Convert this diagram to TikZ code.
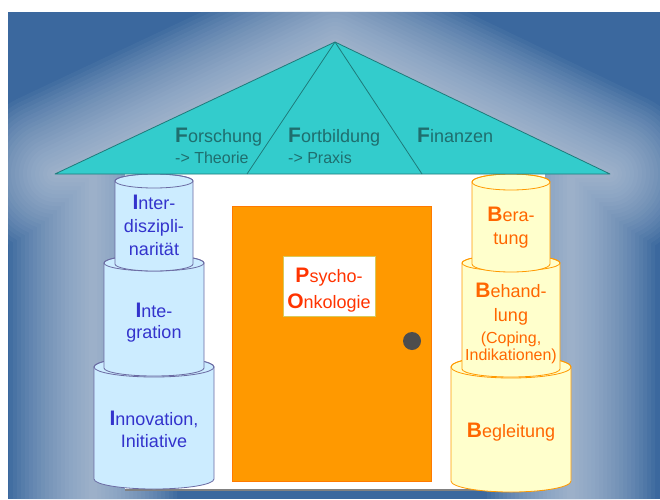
\documentclass[tikz,border=0pt]{standalone}
\usepackage{fontspec}
\setmainfont{Liberation Sans}

\definecolor{bgblue}{HTML}{3B689E}
\definecolor{glowwhite}{HTML}{D6DEEA}
\definecolor{roofteal}{HTML}{33CCCC}
\definecolor{roofline}{HTML}{1F7A7A}
\definecolor{rooftext}{HTML}{1F6E6E}
\definecolor{pillblue}{HTML}{CCECFF}
\definecolor{pillblueline}{HTML}{6B6BA3}
\definecolor{textblue}{HTML}{3333CC}
\definecolor{pillyellow}{HTML}{FFFFCC}
\definecolor{pillyellowline}{HTML}{FF9900}
\definecolor{textorange}{HTML}{FF6600}
\definecolor{doororange}{HTML}{FF9900}
\definecolor{doorline}{HTML}{FF7A00}
\definecolor{signred}{HTML}{FF3300}
\definecolor{signline}{HTML}{D9C95A}
\definecolor{knobgray}{HTML}{4D4D4D}

% big bold first letter
\newcommand{\ini}[1]{{\fontsize{21}{22}\selectfont\bfseries #1}}
% pillar drum: style, centre x, top y, bottom y, x radius, y radius
\newcommand{\pillar}[6]{%
  \filldraw[#1] (#2-#5,#3) -- (#2-#5,#4)
    arc[start angle=180, end angle=360, x radius=#5, y radius=#6]
    -- (#2+#5,#3)
    arc[start angle=0, end angle=180, x radius=#5, y radius=#6] -- cycle;
  \draw[#1, fill=none] (#2,#3) ellipse[x radius=#5, y radius=#6];}

\begin{document}
\begin{tikzpicture}[x=1pt, y=1pt,
    glow/.style={glowwhite, opacity=0.05, line join=round},
    roof/.style={fill=roofteal, draw=roofline, line width=0.8pt, line join=round},
    bluedrum/.style={fill=pillblue, draw=pillblueline, line width=0.8pt},
    yellowdrum/.style={fill=pillyellow, draw=pillyellowline, line width=0.8pt},
    rooflabel/.style={anchor=base west, inner sep=0pt, text=rooftext, font=\fontsize{18}{22}\selectfont},
    roofsub/.style={anchor=base west, inner sep=0pt, text=rooftext, font=\fontsize{16}{20}\selectfont},
    bluelabel/.style={anchor=base, inner sep=0pt, text=textblue, font=\fontsize{18}{22}\selectfont},
    orangelabel/.style={anchor=base, inner sep=0pt, text=textorange, font=\fontsize{18}{22}\selectfont},
    orangesmall/.style={anchor=base, inner sep=0pt, text=textorange, font=\fontsize{16}{20}\selectfont},
    signlabel/.style={anchor=base, inner sep=0pt, text=signred, font=\fontsize{18}{22}\selectfont}]

    \useasboundingbox (0,0) rectangle (660,499);
    \fill[bgblue] (8,0) rectangle (660,487);

    % glow round the house
    \begin{scope}
    \clip (8,0) rectangle (660,487);
    \foreach \w in {8,16,...,168}
        \draw[glow, line width=\w pt] (55,325) -- (335,457) -- (610,325) -- (571,325) -- (571,-120) -- (93,-120) -- (93,325) -- cycle;
    \end{scope}

    % house body and door
    \fill[white] (125,9) rectangle (545,325);
    \draw[gray, line width=1.5pt] (125,9) -- (545,9);
    \filldraw[fill=doororange, draw=doorline, line width=0.8pt] (232,18) rectangle (431,293);
    \filldraw[fill=white, draw=signline, line width=0.6pt] (283,183) rectangle (375,243);
    \fill[knobgray] (412,158) circle (9);

    % left pillar
    \pillar{bluedrum}{154}{132}{20}{60}{10}
    \pillar{bluedrum}{154}{236}{131}{50}{8}
    \pillar{bluedrum}{154}{318}{235}{39}{7}

    % right pillar
    \pillar{yellowdrum}{511}{132}{18}{60}{11}
    \pillar{yellowdrum}{511}{236}{130}{49}{8}
    \pillar{yellowdrum}{511}{317}{235}{39}{8}

    % roof
    \coordinate (apex) at (335,457);
    \coordinate (eaveL) at (55,325);
    \coordinate (eaveR) at (610,325);
    \coordinate (splitL) at (247,325);
    \coordinate (splitR) at (422,325);
    \filldraw[roof] (eaveL) -- (apex) -- (eaveR) -- cycle;
    \draw[roofline, line width=0.8pt] (apex) -- (splitL);
    \draw[roofline, line width=0.8pt] (apex) -- (splitR);

    \node[rooflabel] (forschung) at (175,357){\ini{F}orschung};
    \node[roofsub] (theorie) at (175,336){-> Theorie};
    \node[rooflabel] (fortbildung) at (288,357){\ini{F}ortbildung};
    \node[roofsub] (praxis) at (288,336){-> Praxis};
    \node[rooflabel] (finanzen) at (417,357){\ini{F}inanzen};

    \node[signlabel] (psycho) at (329,217){\ini{P}sycho-};
    \node[signlabel] (onko) at (329,191){\ini{O}nkologie};

    \node[bluelabel] (inter) at (154,290){\ini{I}nter-};
    \node[bluelabel] (diszi) at (154,267){diszipli-};
    \node[bluelabel] (narit) at (154,244){narität};
    \node[bluelabel] (integ) at (154,182){\ini{I}nte-};
    \node[bluelabel] (gration) at (154,161){gration};
    \node[bluelabel] (innov) at (154,74){\ini{I}nnovation,};
    \node[bluelabel] (initi) at (154,52){Initiative};

    \node[orangelabel] (bera) at (511,278){\ini{B}era-};
    \node[orangelabel] (tung) at (511,255){tung};
    \node[orangelabel] (behand) at (511,202){\ini{B}ehand-};
    \node[orangelabel] (lung) at (511,178){lung};
    \node[orangesmall] (coping) at (511,156){(Coping,};
    \node[orangesmall] (indik) at (511,139){Indikationen)};
    \node[orangelabel] (begleit) at (511,62){\ini{B}egleitung};
\end{tikzpicture}
\end{document}
